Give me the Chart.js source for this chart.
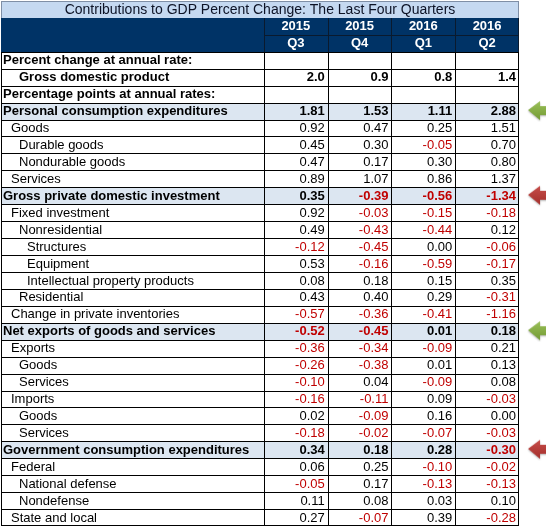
<!DOCTYPE html>
<html>
<head>
<meta charset="utf-8">
<title>Contributions to GDP Percent Change</title>
<script src="https://cdn.jsdelivr.net/npm/chart.js@4.4.0/dist/chart.umd.min.js"></script>
<style>
  body { margin: 0; background: #fff; }
  #wrap { width: 546px; height: 528px; }
</style>
</head>
<body>
<div id="wrap"><canvas id="gdpTable"></canvas></div>
<script>
// ---- data ----
const title = "Contributions to GDP Percent Change: The Last Four Quarters";
const years = ["2015", "2015", "2016", "2016"];
const quarters = ["Q3", "Q4", "Q1", "Q2"];

const rowLabels = [
    "Percent change at annual rate:",
    "Gross domestic product",
    "Percentage points at annual rates:",
    "Personal consumption expenditures",
    "Goods",
    "Durable goods",
    "Nondurable goods",
    "Services",
    "Gross private domestic investment",
    "Fixed investment",
    "Nonresidential",
    "Structures",
    "Equipment",
    "Intellectual property products",
    "Residential",
    "Change in private inventories",
    "Net exports of goods and services",
    "Exports",
    "Goods",
    "Services",
    "Imports",
    "Goods",
    "Services",
    "Government consumption expenditures",
    "Federal",
    "National defense",
    "Nondefense",
    "State and local"
];

// outline level of each row (0 = section)
const rowLevel = [0, 2, 0, 0, 1, 2, 2, 1, 0, 1, 2, 3, 3, 3, 2, 1, 0, 1, 2, 2, 1, 2, 2, 0, 1, 2, 2, 1];

const q3_2015 = [null, 2.0, null, 1.81, 0.92, 0.45, 0.47, 0.89, 0.35, 0.92, 0.49, -0.12, 0.53, 0.08, 0.43, -0.57,
    -0.52, -0.36, -0.26, -0.10, -0.16, 0.02, -0.18, 0.34, 0.06, -0.05, 0.11, 0.27];
const q4_2015 = [null, 0.9, null, 1.53, 0.47, 0.30, 0.17, 1.07, -0.39, -0.03, -0.43, -0.45, -0.16, 0.18, 0.40, -0.36,
    -0.45, -0.34, -0.38, 0.04, -0.11, -0.09, -0.02, 0.18, 0.25, 0.17, 0.08, -0.07];
const q1_2016 = [null, 0.8, null, 1.11, 0.25, -0.05, 0.30, 0.86, -0.56, -0.15, -0.44, 0.00, -0.59, 0.15, 0.29, -0.41,
    0.01, -0.09, 0.01, -0.09, 0.09, 0.16, -0.07, 0.28, -0.10, -0.13, 0.03, 0.39];
const q2_2016 = [null, 1.4, null, 2.88, 1.51, 0.70, 0.80, 1.37, -1.34, -0.18, 0.12, -0.06, -0.17, 0.35, -0.31, -1.16,
    0.18, 0.21, 0.13, 0.08, -0.03, 0.00, -0.03, -0.30, -0.02, -0.13, 0.10, -0.28];

const quarterValues = [q3_2015, q4_2015, q1_2016, q2_2016];

// ---- layout ----
const headRows = 3;                       // title + year + quarter
const totalRows = headRows + rowLabels.length;
const labelSpan = 4.125;                  // label column width in value-column units
const tableRight = labelSpan + quarters.length;
const xMax = 8.549;
const font = '"Liberation Sans", Arial, sans-serif';

function isSection(r) {
    return rowLevel[r] === 0 && q3_2015[r] !== null;
}
function isBold(r) {
    return rowLevel[r] === 0 || rowLabels[r] === "Gross domestic product";
}

// small arrow pictures used as point styles
function makeArrow(top, bottom) {
    const c = document.createElement("canvas");
    c.width = 26;
    c.height = 22;
    const g = c.getContext("2d");
    const grad = g.createLinearGradient(0, 0, 0, 22);
    grad.addColorStop(0, top);
    grad.addColorStop(1, bottom);
    g.shadowColor = "rgba(0,0,0,0.3)";
    g.shadowBlur = 2;
    g.shadowOffsetY = 1;
    g.fillStyle = grad;
    g.beginPath();
    g.moveTo(1, 10);
    g.lineTo(13, 1);
    g.lineTo(13, 6);
    g.lineTo(25, 6);
    g.lineTo(25, 15);
    g.lineTo(13, 15);
    g.lineTo(13, 20);
    g.closePath();
    g.fill();
    return c;
}
const greenArrow = makeArrow("#9cc25a", "#6f9630");
const redArrow = makeArrow("#c9504c", "#a02b28");

// value points, one dataset per quarter
const valueSets = quarterValues.map((vals, i) => ({
    label: years[i] + " " + quarters[i],
    data: vals.map((v, r) => v === null ? null : { x: labelSpan + i + 0.5, y: headRows + r + 0.5, v: v, r: r })
              .filter(p => p !== null),
    pointRadius: 0
}));

// arrows on the section rows, green when the latest quarter rose
const arrowPoints = rowLabels.map((lab, r) => isSection(r)
        ? { x: tableRight + 0.33, y: headRows + r + 0.5, up: q2_2016[r] > q1_2016[r] }
        : null).filter(p => p !== null);

const tablePlugin = {
    id: "tablePlugin",
    beforeDatasetsDraw(chart) {
        const { ctx, scales: { x, y } } = chart;
        const px = v => Math.round(x.getPixelForValue(v));
        const py = v => Math.round(y.getPixelForValue(v));
        const left = px(0), right = px(tableRight), w = right - left;

        ctx.save();
        // title band
        ctx.fillStyle = "#c5d9f1";
        ctx.fillRect(left, py(0), w, py(1) - py(0));
        ctx.strokeStyle = "#7f8fa6";
        ctx.lineWidth = 1;
        ctx.strokeRect(left + 0.5, py(0) + 0.5, w - 1, py(1) - py(0));

        // header band
        ctx.fillStyle = "#003366";
        ctx.fillRect(left, py(1), w, py(3) - py(1));

        // section rows
        ctx.fillStyle = "#dce6f1";
        rowLabels.forEach((lab, r) => {
            if (isSection(r)) ctx.fillRect(left, py(headRows + r), w, py(headRows + r + 1) - py(headRows + r));
        });

        // grid
        ctx.fillStyle = "#000";
        for (let r = headRows; r <= totalRows; r++) {
            ctx.fillRect(left, Math.min(py(r), py(totalRows) - 1), w, 1);
        }
        const cols = [0, labelSpan];
        for (let i = 1; i <= quarters.length; i++) cols.push(labelSpan + i);
        cols.forEach(c => {
            const cx = Math.min(px(c), right - 1);
            ctx.fillRect(cx, py(headRows), 1, py(totalRows) - py(headRows));
        });
        ctx.fillStyle = "#0a1a2e";
        for (let i = 0; i <= quarters.length; i++) {
            ctx.fillRect(Math.min(px(labelSpan + i), right - 1), py(1), 1, py(3) - py(1));
        }
        ctx.fillRect(px(labelSpan), py(2), right - px(labelSpan), 1);

        // title text
        ctx.textBaseline = "middle";
        ctx.textAlign = "center";
        ctx.fillStyle = "#0d1326";
        ctx.font = "14px " + font;
        ctx.fillText(title, (left + right) / 2, y.getPixelForValue(0.5) + 0.5);

        // header text
        ctx.fillStyle = "#fff";
        ctx.font = "bold 13px " + font;
        years.forEach((yr, i) => {
            const cx = x.getPixelForValue(labelSpan + i + 0.5);
            ctx.fillText(yr, cx, y.getPixelForValue(1.5) + 0.5);
            ctx.fillText(quarters[i], cx, y.getPixelForValue(2.5) + 0.5);
        });

        // row labels
        ctx.textAlign = "left";
        ctx.fillStyle = "#000";
        rowLabels.forEach((lab, r) => {
            ctx.font = (isBold(r) ? "bold " : "") + "13px " + font;
            ctx.fillText(lab, left + 2 + rowLevel[r] * 8, y.getPixelForValue(headRows + r + 0.5) + 0.5);
        });
        ctx.restore();
    },
    afterDatasetsDraw(chart) {
        const { ctx, scales: { x } } = chart;
        ctx.save();
        ctx.textBaseline = "middle";
        ctx.textAlign = "right";
        chart.data.datasets.forEach((ds, i) => {
            if (i >= quarters.length) return;
            const meta = chart.getDatasetMeta(i);
            meta.data.forEach((el, j) => {
                const p = ds.data[j];
                const digits = rowLabels[p.r] === "Gross domestic product" ? 1 : 2;
                ctx.font = (isBold(p.r) ? "bold " : "") + "13px " + font;
                ctx.fillStyle = p.v < 0 ? "#c00000" : "#000";
                const edge = x.getPixelForValue(p.x + 0.5);
                ctx.fillText(p.v.toFixed(digits), edge - 3, el.y + 0.5);
            });
        });
        ctx.restore();
    }
};

new Chart("gdpTable", {
    type: "scatter",
    data: {
        datasets: valueSets.concat([{
            label: "direction",
            data: arrowPoints,
            pointRadius: 10,
            pointStyle: c => (c.raw && c.raw.up) ? greenArrow : redArrow
        }])
    },
    options: {
        responsive: true,
        maintainAspectRatio: false,
        animation: false,
        events: [],
        layout: { autoPadding: false, padding: { left: 1, right: 0, top: 1, bottom: 2 } },
        scales: {
            x: { type: "linear", min: 0, max: xMax, display: false },
            y: { type: "linear", min: 0, max: totalRows, reverse: true, display: false }
        },
        plugins: {
            legend: { display: false },
            tooltip: { enabled: false }
        }
    },
    plugins: [tablePlugin]
});
</script>
</body>
</html>
